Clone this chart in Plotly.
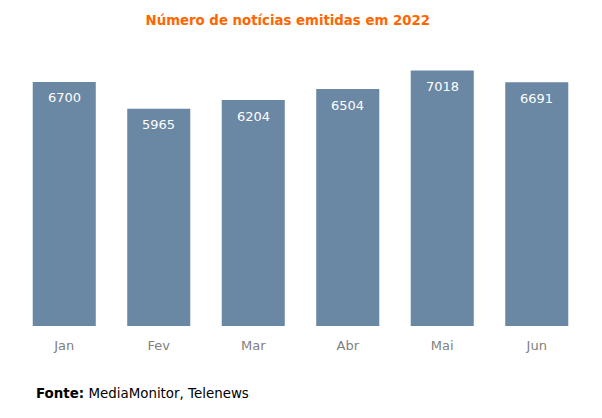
import plotly.graph_objects as go

months = ["Jan", "Fev", "Mar", "Abr", "Mai", "Jun"]
counts = [6700, 5965, 6204, 6504, 7018, 6691]

FONT = "DejaVu Sans, Verdana, sans-serif"

fig = go.Figure(go.Bar(
    x=months, y=counts,
    marker=dict(color="#6a87a3", line=dict(width=0)),
    width=0.667,
    hoverinfo="skip",
))

annotations = [
    dict(x=m, y=v, xref="x", yref="y", text=str(v), showarrow=False,
         yanchor="middle", yshift=-16,
         font=dict(color="white", size=13, family=FONT))
    for m, v in zip(months, counts)
]
annotations.append(dict(
    text="<b>Fonte:</b> MediaMonitor, Telenews",
    xref="paper", yref="paper",
    x=(34 - 17) / (602 - 35), y=(326 - 393) / (326 - 45),
    xanchor="left", yanchor="middle", showarrow=False,
    font=dict(color="#000000", size=13.4, family=FONT),
))

fig.update_layout(
    width=602, height=418,
    margin=dict(l=17, r=18, t=45, b=92),
    paper_bgcolor="white", plot_bgcolor="white",
    showlegend=False,
    bargap=0.333,
    title=dict(
        text="<b>Número de notícias emitidas em 2022</b>",
        x=0.478, xanchor="center", y=0.952, yanchor="middle",
        font=dict(color="#ff6600", size=13.3, family=FONT),
    ),
    xaxis=dict(
        showgrid=False, showline=False, zeroline=False, fixedrange=True,
        ticks="outside", ticklen=7, tickcolor="rgba(0,0,0,0)",
        tickfont=dict(color="#808080", size=13, family=FONT),
    ),
    yaxis=dict(
        range=[0, 7715], visible=False, showgrid=False, zeroline=False,
        fixedrange=True,
    ),
    annotations=annotations,
)

fig.write_html("out.html", config={"displayModeBar": False},
               post_script="document.body.style.margin='0';")
